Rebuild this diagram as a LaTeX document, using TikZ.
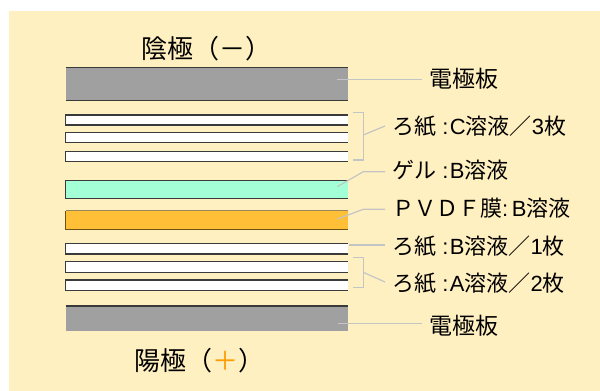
\documentclass[tikz,border=0pt]{standalone}
\usepackage{fontspec}
\setmainfont{Noto Sans CJK JP}
\newfontfamily\latf{Liberation Sans}
\usetikzlibrary{calc}
\definecolor{bgcream}{HTML}{FFF0C1}
\definecolor{elecgray}{HTML}{A0A0A0}
\definecolor{gelgreen}{HTML}{A2FFD6}
\definecolor{pvdforange}{HTML}{FFBF36}
\definecolor{conngray}{HTML}{C4C4C4}
\definecolor{plusorange}{HTML}{FF9C00}
\definecolor{edgedark}{HTML}{3A3A3A}
\definecolor{edgebrown}{HTML}{6E5214}
\tikzset{
  layer/.style={draw=none,inner sep=0pt,outer sep=0pt,minimum width=282.5pt},
  edgeline/.style={line width=1.3pt,draw=edgedark},
  connline/.style={line width=1.2pt,draw=conngray},
  lbl/.style={anchor=west,inner sep=0pt,font=\fontsize{22}{25}\selectfont},
  elbl/.style={anchor=west,inner sep=0pt,font=\fontsize{23}{26}\selectfont},
  ttl/.style={anchor=west,inner sep=0pt,font=\fontsize{26}{29}\selectfont},
}
\newcommand{\clsep}{\hspace{1.5pt}}
\begin{document}
\begin{tikzpicture}[x=1pt,y=-1pt]
\useasboundingbox (0,0) rectangle (600,391);
\fill[bgcream] (8.5,10.5) rectangle (600,391);

% layers
\node[layer,fill=elecgray,minimum height=33pt] (eltop) at (206.75,84.2) {};
\node[layer,fill=white,minimum height=10pt] (p1) at (206.75,120) {};
\node[layer,fill=white,minimum height=10pt] (p2) at (206.75,137.7) {};
\node[layer,fill=white,minimum height=10pt] (p3) at (206.75,156.5) {};
\node[layer,fill=gelgreen,minimum height=17.6pt] (gel) at (206.75,189.5) {};
\node[layer,fill=pvdforange,minimum height=18.6pt] (pvdf) at (206.75,220) {};
\node[layer,fill=white,minimum height=10.5pt] (pb) at (206.75,248.7) {};
\node[layer,fill=white,minimum height=10.5pt] (pa1) at (206.75,267) {};
\node[layer,fill=white,minimum height=10.5pt] (pa2) at (206.75,285.3) {};
\node[layer,fill=elecgray,minimum height=24.7pt] (elbot) at (206.75,318.3) {};

% edges
\draw[edgeline] (eltop.north west) -- (eltop.north east);
\draw[edgeline] (eltop.south west) -- (eltop.south east);
\foreach \n in {p1,p2,p3,pb,pa1,pa2}
  \draw[edgeline] (\n.north east) -- (\n.north west) -- (\n.south west) -- (\n.south east);
\draw[edgeline] (gel.north east) -- (gel.north west) -- (gel.south west) -- (gel.south east);
\draw[line width=1.3pt,draw=edgebrown!70!white] (pvdf.north east) -- (pvdf.north west);
\draw[line width=1.3pt,draw=edgebrown] (pvdf.north west) -- (pvdf.south west) -- (pvdf.south east);
\draw[edgeline] (elbot.north west) -- (elbot.north east);

% titles
\node[ttl] (cathode) at (141,48.5) {陰極（－）};
\node[ttl] (anode) at (134.5,361) {陽極（{\color{plusorange}＋}）};

% labels
\node[elbl] (letop) at (429,78.5) {電極板};
\node[lbl] (lc) at (392,126.7) {ろ紙{\latf\ :\clsep C}溶液／{\latf 3}枚};
\node[lbl] (lgel) at (392,170.5) {ゲル{\latf\ :\clsep B}溶液};
\node[lbl] (lpvdf) at (392,208.5) {ＰＶＤＦ膜{\latf :\,B}溶液};
\node[lbl] (lb) at (392,246.7) {ろ紙{\latf\ :\clsep B}溶液／{\latf 1}枚};
\node[lbl] (la) at (392,283) {ろ紙{\latf\ :\clsep A}溶液／{\latf 2}枚};
\node[elbl] (lebot) at (429,326) {電極板};

% connector points
\coordinate (c-et) at (337,79.7);
\coordinate (c-eb) at (338.3,323.3);
\coordinate (brC-t) at (352.7,112.7);
\coordinate (brC-b) at (352.7,160);
\coordinate (brC-m) at (363.3,135);
\coordinate (c-gel) at (337.3,186.7);
\coordinate (c-pvdf) at (337.3,219);
\coordinate (c-pb) at (349,245);
\coordinate (brA-t) at (352.7,257.7);
\coordinate (brA-b) at (352.7,287.7);
\coordinate (brA-m) at (363.3,272.3);

% connectors
\draw[connline] (c-et) -- ($(c-et -| letop.west)+(-7.5,0)$);
\draw[connline] (c-eb) -- ($(c-eb -| lebot.west)+(-7.5,0)$);
\draw[connline] (brC-t) -- (brC-t -| brC-m) -- (brC-b -| brC-m) -- (brC-b);
\draw[connline] (brC-m) -- ($(lc.west)+(-7,-0.7)$);
\draw[connline] (c-gel) -- (363.3,171.7) -- ($(lgel.west |- 0,171.7)+(-7,0)$);
\draw[connline] (c-pvdf) -- (363.3,209.3) -- ($(lpvdf.west |- 0,209.3)+(-7,0)$);
\draw[connline] (c-pb) -- ($(lb.west |- c-pb)+(-7,0)$);
\draw[connline] (brA-t) -- (brA-t -| brA-m) -- (brA-b -| brA-m) -- (brA-b);
\draw[connline] (brA-m) -- ($(la.west)+(-7,-1)$);
\end{tikzpicture}
\end{document}
